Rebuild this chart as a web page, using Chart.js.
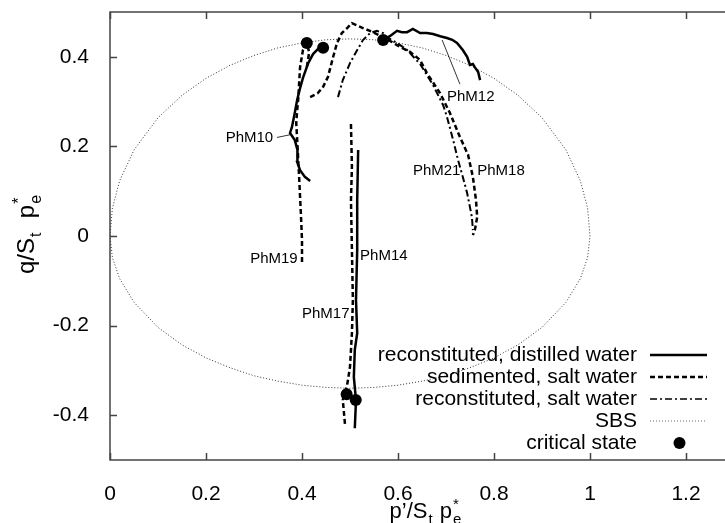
<!DOCTYPE html>
<html>
<head>
<meta charset="utf-8">
<script src="https://cdn.jsdelivr.net/npm/chart.js@4.4.0/dist/chart.umd.min.js"></script>
<style>
  html, body { margin: 0; padding: 0; background: #fff; overflow: hidden; }
  #wrap { width: 725px; height: 523px; overflow: hidden; }
</style>
</head>
<body>
<div id="wrap"><canvas id="chart" width="745" height="523"></canvas></div>
<script>
const xTicks = [0, 0.2, 0.4, 0.6, 0.8, 1, 1.2];
const yTicks = [-0.4, -0.2, 0, 0.2, 0.4];

// state boundary surface (compression top, extension bottom)
const sbsP     = [0, 0.005, 0.02, 0.05, 0.1, 0.15, 0.2, 0.25, 0.3, 0.35, 0.4, 0.45, 0.5, 0.55, 0.6, 0.65, 0.7, 0.75, 0.8, 0.85, 0.9, 0.95, 0.98, 0.995, 1];
const sbsUpper = [0, 0.062, 0.123, 0.192, 0.264, 0.314, 0.352, 0.381, 0.403, 0.420, 0.431, 0.438, 0.440, 0.438, 0.431, 0.420, 0.403, 0.381, 0.352, 0.314, 0.264, 0.192, 0.123, 0.062, 0];
const sbsLower = [0, -0.048, -0.095, -0.148, -0.204, -0.243, -0.272, -0.294, -0.312, -0.324, -0.333, -0.338, -0.340, -0.338, -0.333, -0.324, -0.312, -0.294, -0.272, -0.243, -0.204, -0.148, -0.095, -0.048, 0];

// reconstituted, distilled water
const phm10 = [[0.417,0.123],[0.406,0.132],[0.396,0.147],[0.390,0.165],[0.391,0.180],[0.390,0.192],[0.385,0.214],[0.375,0.230],[0.379,0.243],[0.385,0.275],[0.390,0.304],[0.396,0.330],[0.402,0.353],[0.413,0.386],[0.423,0.406],[0.433,0.417],[0.444,0.420]];
const phm12 = [[0.569,0.4375],[0.583,0.446],[0.598,0.458],[0.608,0.455],[0.619,0.455],[0.631,0.462],[0.646,0.453],[0.660,0.453],[0.673,0.451],[0.688,0.446],[0.702,0.442],[0.713,0.438],[0.723,0.431],[0.735,0.415],[0.744,0.400],[0.750,0.382],[0.756,0.384],[0.760,0.377],[0.767,0.366],[0.771,0.348]];
const phm14 = [[0.517,0.192],[0.515,0.080],[0.515,-0.031],[0.5125,-0.143],[0.515,-0.217],[0.510,-0.254],[0.508,-0.315],[0.5125,-0.366],[0.510,-0.429]];

// sedimented, salt water
const phm19 = [[0.400,-0.058],[0.400,-0.009],[0.398,0.042],[0.394,0.132],[0.390,0.214],[0.388,0.252],[0.390,0.281],[0.392,0.304],[0.396,0.377],[0.402,0.415],[0.410,0.431],[0.415,0.410],[0.410,0.377]];
const phm17 = [[0.502,0.250],[0.504,0.154],[0.502,0.080],[0.504,-0.031],[0.506,-0.143],[0.504,-0.217],[0.500,-0.292],[0.494,-0.333],[0.485,-0.366],[0.490,-0.426]];
const phm18 = [[0.417,0.310],[0.433,0.319],[0.444,0.333],[0.454,0.355],[0.465,0.400],[0.473,0.431],[0.483,0.453],[0.494,0.464],[0.504,0.475],[0.527,0.464],[0.548,0.455],[0.569,0.444],[0.5875,0.433],[0.604,0.422],[0.625,0.411],[0.646,0.393],[0.660,0.364],[0.6875,0.319],[0.708,0.275],[0.729,0.221],[0.746,0.181],[0.756,0.132],[0.7625,0.080],[0.765,0.042],[0.760,0.013],[0.756,0.002]];

// reconstituted, salt water
const phm21 = [[0.475,0.310],[0.485,0.348],[0.500,0.386],[0.515,0.415],[0.527,0.4375],[0.542,0.453],[0.556,0.458],[0.569,0.453],[0.573,0.446],[0.598,0.431],[0.619,0.415],[0.646,0.384],[0.673,0.337],[0.694,0.292],[0.702,0.266],[0.715,0.214],[0.725,0.170],[0.735,0.132],[0.744,0.096],[0.754,0.042],[0.756,0.013]];

const criticalState = [[0.410,0.431],[0.444,0.420],[0.569,0.4375],[0.493,-0.353],[0.512,-0.366]];

const testLabels = [
  {text: 'PhM10', p: 0.340, q: 0.219, align: 'right'},
  {text: 'PhM12', p: 0.702, q: 0.310, align: 'left'},
  {text: 'PhM21', p: 0.631, q: 0.145, align: 'left'},
  {text: 'PhM18', p: 0.765, q: 0.145, align: 'left'},
  {text: 'PhM19', p: 0.292, q: -0.051, align: 'left'},
  {text: 'PhM14', p: 0.521, q: -0.045, align: 'left'},
  {text: 'PhM17', p: 0.400, q: -0.174, align: 'left'}
];

const FONT = '"Liberation Sans", Arial, Helvetica, sans-serif';
const SOLID = [], DASHED = [5, 3], DASHDOT = [7, 3, 2, 3], DOTTED = [1, 2];

const toXY = arr => arr.map(([x, y]) => ({x, y}));
const sbsLoop = sbsP.map((p, i) => ({x: p, y: sbsUpper[i]}))
  .concat(sbsP.map((p, i) => ({x: p, y: sbsLower[i]})).reverse());

function trace(data, dash, width) {
  return {
    data: toXY(data), showLine: true, borderColor: '#000', borderWidth: width,
    borderDash: dash, pointRadius: 0, tension: 0, fill: false, order: 1
  };
}

const datasets = [
  {label: 'critical state', data: toXY(criticalState), pointRadius: 6, pointBackgroundColor: '#000',
   pointBorderWidth: 0, showLine: false, order: 0},
  trace(phm10, SOLID, 2.5), trace(phm12, SOLID, 2.5), trace(phm14, SOLID, 2.5),
  trace(phm19, DASHED, 2.5), trace(phm17, DASHED, 2.5), trace(phm18, DASHED, 2.5),
  trace(phm21, DASHDOT, 2),
  {label: 'SBS', data: sbsLoop, showLine: true, borderColor: '#333', borderWidth: 1,
   borderDash: DOTTED, pointRadius: 0, tension: 0, order: 2}
];

const legendRows = [
  {label: 'reconstituted, distilled water', dash: SOLID, width: 2.5, color: '#000'},
  {label: 'sedimented, salt water', dash: DASHED, width: 2.5, color: '#000'},
  {label: 'reconstituted, salt water', dash: DASHDOT, width: 1.5, color: '#000'},
  {label: 'SBS', dash: DOTTED, width: 1, color: '#666'},
  {label: 'critical state', dot: true}
];

// text with subscript / stacked super+subscript
function richText(ctx, parts, size, cx, baseline) {
  const small = Math.round(size * 0.68);
  let w = 0;
  const pieces = parts.map(pt => {
    if (pt.sub === undefined && pt.sup === undefined) {
      ctx.font = `${size}px ${FONT}`;
      return {pt, pw: ctx.measureText(pt.t).width};
    }
    ctx.font = `${small}px ${FONT}`;
    const pw = Math.max(ctx.measureText(pt.sub || '').width, ctx.measureText(pt.sup || '').width) + 2;
    return {pt, pw};
  });
  pieces.forEach(p => w += p.pw);
  let x = cx - w / 2;
  ctx.textAlign = 'left';
  ctx.textBaseline = 'alphabetic';
  pieces.forEach(({pt, pw}) => {
    if (pt.sub === undefined && pt.sup === undefined) {
      ctx.font = `${size}px ${FONT}`;
      ctx.fillText(pt.t, x, baseline);
    } else {
      ctx.font = `${small}px ${FONT}`;
      if (pt.sub) ctx.fillText(pt.sub, x + 1, baseline + size * 0.28);
      if (pt.sup) ctx.fillText(pt.sup, x + 1, baseline - size * 0.42);
    }
    x += pw;
  });
}

const decorations = {
  id: 'decorations',
  afterDraw(chart) {
    const {ctx, chartArea: a, scales: {x, y}} = chart;
    ctx.save();
    // frame and inward ticks on all four sides
    ctx.strokeStyle = '#444';
    ctx.lineWidth = 1.5;
    ctx.setLineDash([]);
    ctx.strokeRect(a.left, a.top, a.right - a.left, a.bottom - a.top);
    ctx.beginPath();
    xTicks.forEach(v => {
      const px = Math.round(x.getPixelForValue(v)) + 0.5;
      ctx.moveTo(px, a.bottom); ctx.lineTo(px, a.bottom - 7);
      ctx.moveTo(px, a.top); ctx.lineTo(px, a.top + 7);
    });
    yTicks.forEach(v => {
      const py = Math.round(y.getPixelForValue(v)) + 0.5;
      ctx.moveTo(a.left, py); ctx.lineTo(a.left + 7, py);
      ctx.moveTo(a.right, py); ctx.lineTo(a.right - 7, py);
    });
    ctx.stroke();

    ctx.fillStyle = '#000';
    // axis titles
    const xTitle = [{t: 'p\u2019/S'}, {sub: 't'}, {t: ' p'}, {sup: '*', sub: 'e'}];
    const yTitle = [{t: 'q/S'}, {sub: 't'}, {t: '  p'}, {sup: '*', sub: 'e'}];
    richText(ctx, xTitle, 22, 426, 518);
    ctx.save();
    ctx.translate(34, (a.top + a.bottom) / 2 - 2);
    ctx.rotate(-Math.PI / 2);
    richText(ctx, yTitle, 24, 0, 0);
    ctx.restore();

    // test labels and pointers
    ctx.font = `15px ${FONT}`;
    ctx.textBaseline = 'middle';
    testLabels.forEach(l => {
      ctx.textAlign = l.align;
      ctx.fillText(l.text, x.getPixelForValue(l.p), y.getPixelForValue(l.q));
    });
    ctx.strokeStyle = '#000';
    ctx.lineWidth = 0.8;
    ctx.beginPath();
    ctx.moveTo(x.getPixelForValue(0.348), y.getPixelForValue(0.220));
    ctx.lineTo(x.getPixelForValue(0.375), y.getPixelForValue(0.226));
    ctx.moveTo(x.getPixelForValue(0.729), y.getPixelForValue(0.339));
    ctx.lineTo(x.getPixelForValue(0.692), y.getPixelForValue(0.4375));
    ctx.stroke();

    // legend
    const textRight = 637, sx0 = 650, sx1 = 707;
    ctx.font = `21px ${FONT}`;
    ctx.textAlign = 'right';
    ctx.textBaseline = 'middle';
    legendRows.forEach((r, i) => {
      const ry = 355 + i * 22;
      ctx.fillStyle = '#000';
      ctx.fillText(r.label, textRight, ry);
      if (r.dot) {
        ctx.beginPath();
        ctx.arc((sx0 + sx1) / 2 + 1, ry, 6, 0, Math.PI * 2);
        ctx.fill();
      } else {
        ctx.strokeStyle = r.color;
        ctx.lineWidth = r.width;
        ctx.setLineDash(r.dash);
        ctx.beginPath();
        ctx.moveTo(sx0, ry); ctx.lineTo(sx1, ry);
        ctx.stroke();
      }
    });
    ctx.restore();
  }
};

new Chart(document.getElementById('chart').getContext('2d'), {
  type: 'scatter',
  data: {datasets},
  options: {
    responsive: false,
    animation: false,
    layout: {padding: {top: 12, right: 11, left: 0, bottom: 0}},
    plugins: {legend: {display: false}, tooltip: {enabled: false}},
    scales: {
      x: {
        type: 'linear', min: 0, max: 1.3,
        afterBuildTicks: s => { s.ticks = xTicks.map(v => ({value: v})); },
        afterFit: s => { s.height = 63; s.paddingLeft = 0; s.paddingRight = 0; },
        grid: {display: false}, border: {display: false},
        ticks: {color: '#000', font: {family: FONT, size: 21}, padding: 14, maxRotation: 0,
                callback: v => String(v)}
      },
      y: {
        type: 'linear', min: -0.5, max: 0.5,
        afterBuildTicks: s => { s.ticks = yTicks.map(v => ({value: v})); },
        afterFit: s => { s.width = 110; s.paddingTop = 0; s.paddingBottom = 0; },
        grid: {display: false}, border: {display: false},
        ticks: {color: '#000', font: {family: FONT, size: 21}, padding: 13,
                callback: v => String(v)}
      }
    }
  },
  plugins: [decorations]
});
</script>
</body>
</html>
